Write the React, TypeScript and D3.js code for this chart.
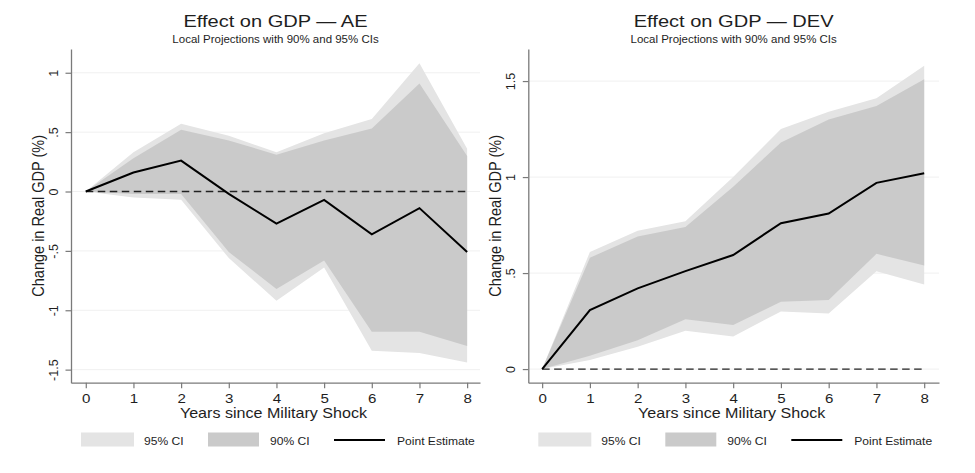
import React, { useEffect, useRef } from 'react';
import * as d3 from 'd3';

// Years after the shock
const years = [0, 1, 2, 3, 4, 5, 6, 7, 8];

// AE (advanced economies)
const aePoint = [0, 0.16, 0.26, -0.02, -0.27, -0.07, -0.36, -0.14, -0.51];
const aeUp95 = [0, 0.33, 0.57, 0.47, 0.33, 0.49, 0.61, 1.08, 0.36];
const aeUp90 = [0, 0.28, 0.52, 0.43, 0.31, 0.43, 0.53, 0.91, 0.3];
const aeLo90 = [0, -0.02, -0.02, -0.51, -0.82, -0.58, -1.18, -1.18, -1.3];
const aeLo95 = [0, -0.05, -0.07, -0.56, -0.92, -0.64, -1.34, -1.36, -1.44];
const aeYTicks = [-1.5, -1, -0.5, 0, 0.5, 1];

// DEV (developing economies)
const devPoint = [0, 0.307, 0.42, 0.51, 0.594, 0.76, 0.81, 0.97, 1.02];
const devUp95 = [0, 0.61, 0.72, 0.77, 1.0, 1.25, 1.34, 1.41, 1.58];
const devUp90 = [0, 0.58, 0.69, 0.74, 0.95, 1.18, 1.3, 1.37, 1.51];
const devLo90 = [0, 0.07, 0.15, 0.26, 0.23, 0.35, 0.36, 0.6, 0.54];
const devLo95 = [0, 0.047, 0.116, 0.2, 0.17, 0.3, 0.29, 0.51, 0.44];
const devYTicks = [0, 0.5, 1, 1.5];

const legendLabels = ['95% CI', '90% CI', 'Point Estimate'];

const FONT = '"Liberation Sans", Arial, Helvetica, sans-serif';
const C95 = '#e4e4e4';
const C90 = '#cacaca';
const AXIS = '#7a7a7a';
const TEXT = '#1e1e1e';
const SX = 1.18; // the original picture is stretched horizontally

interface PanelProps {
  title: string;
  point: number[];
  up95: number[];
  lo95: number[];
  up90: number[];
  lo90: number[];
  yTicks: number[];
  xDomain: [number, number];
  yDomain: [number, number];
  x0: number;
  x1: number;
}

const fmt = (d: number) => String(d).replace('0.', '.');

const Panel: React.FC<PanelProps> = (p) => {
  const ref = useRef<SVGGElement | null>(null);

  useEffect(() => {
    const g = d3.select(ref.current);
    g.selectAll('*').remove();

    const top = 49;
    const bottom = 382.7;

    const x = d3.scaleLinear().domain(p.xDomain).range([p.x0, p.x1]);
    const y = d3.scaleLinear().domain(p.yDomain).range([bottom, top]);
    const cx = (p.x0 + p.x1) / 2;

    // faint grid
    g.append('g')
      .selectAll('line')
      .data(p.yTicks)
      .enter()
      .append('line')
      .attr('x1', p.x0)
      .attr('x2', p.x1)
      .attr('y1', (d) => y(d))
      .attr('y2', (d) => y(d))
      .attr('stroke', '#f0f0f0')
      .attr('stroke-width', 1);

    const band = (lo: number[], up: number[]) =>
      d3
        .area<number>()
        .x((d) => x(d))
        .y0((_, i) => y(lo[i]))
        .y1((_, i) => y(up[i]))(years);

    g.append('path').attr('d', band(p.lo95, p.up95)).attr('fill', C95);
    g.append('path').attr('d', band(p.lo90, p.up90)).attr('fill', C90);

    // zero line
    g.append('line')
      .attr('x1', x(years[0]))
      .attr('x2', x(years[years.length - 1]))
      .attr('y1', y(0))
      .attr('y2', y(0))
      .attr('stroke', '#222')
      .attr('stroke-width', 1.3)
      .attr('stroke-dasharray', '7.5,4.5');

    const line = d3
      .line<number>()
      .x((d) => x(d))
      .y((_, i) => y(p.point[i]));
    g.append('path')
      .attr('d', line(years))
      .attr('fill', 'none')
      .attr('stroke', '#000')
      .attr('stroke-width', 2);

    // x axis
    const xAxis = g
      .append('g')
      .attr('transform', `translate(0,${bottom})`)
      .call(d3.axisBottom(x).tickValues(years).tickSize(5.5).tickSizeOuter(0));
    xAxis.select('.domain').attr('stroke', AXIS).attr('stroke-width', 1.3);
    xAxis.selectAll('.tick line').attr('stroke', AXIS).attr('stroke-width', 1.2);
    xAxis
      .selectAll('.tick text')
      .attr('fill', TEXT)
      .attr('font-family', FONT)
      .attr('font-size', 12.8)
      .attr('y', 0)
      .attr('dy', 0)
      .attr('transform', `translate(0,19.8) scale(${SX},1)`);

    // y axis
    const yAxis = g
      .append('g')
      .attr('transform', `translate(${p.x0},0)`)
      .call(
        d3
          .axisLeft(y)
          .tickValues(p.yTicks)
          .tickFormat((d) => fmt(d as number))
          .tickSize(5.5)
          .tickSizeOuter(0)
      );
    yAxis.select('.domain').attr('stroke', AXIS).attr('stroke-width', 1.3);
    yAxis.selectAll('.tick line').attr('stroke', AXIS).attr('stroke-width', 1.2);
    yAxis
      .selectAll('.tick text')
      .attr('fill', TEXT)
      .attr('font-family', FONT)
      .attr('font-size', 12.5)
      .attr('x', 0)
      .attr('y', 0)
      .attr('dy', 0)
      .attr('text-anchor', 'middle')
      .attr('transform', 'translate(-13.5,0) scale(1.08,1) rotate(-90)');

    // axis titles
    g.append('text')
      .attr('transform', `translate(${p.x0 - 27},${(top + bottom) / 2}) scale(1.1,1) rotate(-90)`)
      .attr('text-anchor', 'middle')
      .attr('font-family', FONT)
      .attr('font-size', 14.5)
      .attr('fill', TEXT)
      .text('Change in Real GDP (%)');

    g.append('text')
      .attr('transform', `translate(${cx - 2},418) scale(1.15,1)`)
      .attr('text-anchor', 'middle')
      .attr('font-family', FONT)
      .attr('font-size', 14)
      .attr('fill', TEXT)
      .text('Years since Military Shock');

    // titles
    g.append('text')
      .attr('transform', `translate(${cx},27.3) scale(${SX},1)`)
      .attr('text-anchor', 'middle')
      .attr('font-family', FONT)
      .attr('font-size', 17)
      .attr('fill', TEXT)
      .text(p.title);

    g.append('text')
      .attr('transform', `translate(${cx},43.3) scale(1.15,1)`)
      .attr('text-anchor', 'middle')
      .attr('font-family', FONT)
      .attr('font-size', 10)
      .attr('fill', TEXT)
      .text('Local Projections with 90% and 95% CIs');

    // legend
    const lg = g.append('g').attr('transform', `translate(${p.x0},0)`);
    lg.append('rect').attr('x', 10).attr('y', 432.5).attr('width', 53).attr('height', 14).attr('fill', C95);
    lg.append('rect').attr('x', 137).attr('y', 432.5).attr('width', 51).attr('height', 14).attr('fill', C90);
    lg.append('line')
      .attr('x1', 263)
      .attr('x2', 314)
      .attr('y1', 440)
      .attr('y2', 440)
      .attr('stroke', '#000')
      .attr('stroke-width', 2);
    lg.selectAll('text.lab')
      .data(legendLabels)
      .enter()
      .append('text')
      .attr('class', 'lab')
      .attr('transform', (_, i) => `translate(${[73, 199, 326][i]},444.5) scale(1.05,1)`)
      .attr('font-family', FONT)
      .attr('font-size', 11.5)
      .attr('fill', TEXT)
      .text((d) => d);
  }, [p]);

  return <g ref={ref}></g>;
};

export default function App() {
  return (
    <svg
      width={975}
      height={473}
      style={{ position: 'absolute', left: 0, top: 0, background: '#fff' }}
    >
      <rect width={975} height={473} fill="#fff" />
      <Panel
        title="Effect on GDP — AE"
        point={aePoint}
        up95={aeUp95}
        lo95={aeLo95}
        up90={aeUp90}
        lo90={aeLo90}
        yTicks={aeYTicks}
        xDomain={[-0.31, 8.27]}
        yDomain={[-1.61, 1.2]}
        x0={71}
        x1={480}
      />
      <Panel
        title="Effect on GDP — DEV"
        point={devPoint}
        up95={devUp95}
        lo95={devLo95}
        up90={devUp90}
        lo90={devLo90}
        yTicks={devYTicks}
        xDomain={[-0.29, 8.31]}
        yDomain={[-0.071, 1.667]}
        x0={528.3}
        x1={939}
      />
    </svg>
  );
}
